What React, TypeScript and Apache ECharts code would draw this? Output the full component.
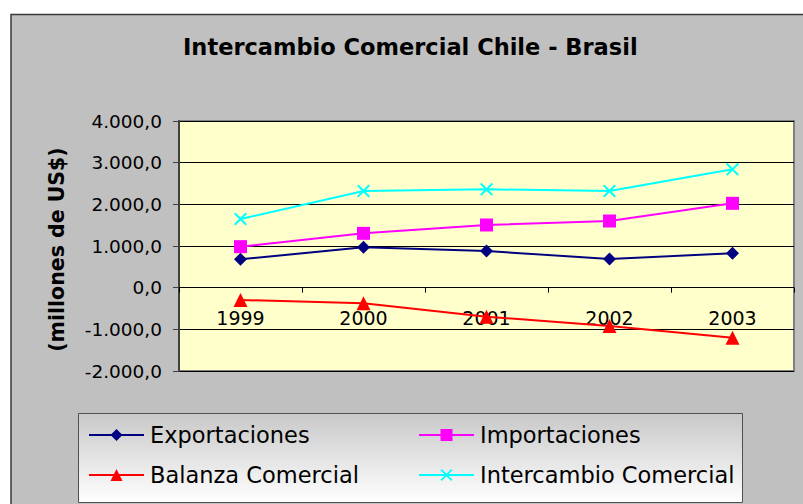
import React, { useEffect, useRef } from "react";
import * as echarts from "echarts";

const years = ["1999", "2000", "2001", "2002", "2003"];
const exportaciones = [680, 968, 880, 688, 824];
const importaciones = [984, 1304, 1504, 1600, 2024];
const balanza = [-296, -376, -696, -920, -1200];
const intercambio = [1648, 2320, 2360, 2320, 2840];

const seriesNames = ["Exportaciones", "Importaciones", "Balanza Comercial", "Intercambio Comercial"];
const titleText = "Intercambio Comercial Chile - Brasil";
const yAxisTitle = "(millones de US$)";

const X_SYMBOL =
  "path://M0,2.2 L2.2,0 L10,7.8 L17.8,0 L20,2.2 L12.2,10 L20,17.8 L17.8,20 L10,12.2 L2.2,20 L0,17.8 L7.8,10 Z";

const Y_MIN = -2000;
const Y_MAX = 4000;
const GRID_TOP = 121;
const GRID_H = 250;

function fmt(v: number): string {
  const neg = v < 0;
  const a = Math.abs(v);
  const intPart = Math.floor(a)
    .toString()
    .replace(/\B(?=(\d{3})+(?!\d))/g, ".");
  return (neg ? "-" : "") + intPart + ",0";
}

export default function App() {
  const ref = useRef<HTMLDivElement>(null);
  useEffect(() => {
    if (!ref.current) return;
    const chart = echarts.init(ref.current, null, { renderer: "svg" });
    const font = "DejaVu Sans";
    // distance from grid bottom up to the zero line
    const zeroOffset = (GRID_H * (0 - Y_MIN)) / (Y_MAX - Y_MIN);
    const mk = (name: string, data: number[], color: string, symbol: string, size: number) => ({
      name,
      type: "line",
      data,
      symbol,
      symbolSize: size,
      showAllSymbol: true,
      lineStyle: { color, width: 2 },
      itemStyle: { color, borderWidth: 0 },
      emphasis: { disabled: true },
    });
    chart.setOption({
      animation: false,
      backgroundColor: "#ffffff",
      title: {
        text: titleText,
        left: 183,
        top: 35,
        padding: 0,
        textStyle: { fontFamily: font, fontSize: 22.5, fontWeight: "bold", color: "#000" },
      },
      graphic: [
        {
          type: "rect",
          z: -10,
          shape: { x: 11, y: 14.5, width: 820, height: 520 },
          style: { fill: "#c0c0c0", stroke: "#3a3a3a", lineWidth: 1.5 },
        },
        {
          type: "rect",
          z: -9,
          shape: { x: 78.5, y: 413.5, width: 664, height: 89 },
          style: {
            fill: new echarts.graphic.LinearGradient(0, 0, 0, 1, [
              { offset: 0, color: "#c8c8c8" },
              { offset: 1, color: "#ffffff" },
            ]),
            stroke: "#505050",
            lineWidth: 1,
          },
        },
        {
          type: "text",
          x: 57,
          y: 249.5,
          rotation: Math.PI / 2,
          style: {
            text: yAxisTitle,
            fontFamily: font,
            fontSize: 20.5,
            fontWeight: "bold",
            fill: "#000",
            align: "center",
            verticalAlign: "middle",
          },
        },
      ],
      legend: [
        {
          data: [seriesNames[0], seriesNames[2]],
          orient: "vertical",
          left: 88,
          top: 423,
          padding: 0,
          itemWidth: 55,
          itemHeight: 15,
          itemGap: 16,
          textStyle: { fontFamily: font, fontSize: 22.5, color: "#000", lineHeight: 24, padding: [0, 0, 0, 1] },
        },
        {
          data: [seriesNames[1], seriesNames[3]],
          orient: "vertical",
          left: 418,
          top: 423,
          padding: 0,
          itemWidth: 55,
          itemHeight: 15,
          itemGap: 16,
          textStyle: { fontFamily: font, fontSize: 22.5, color: "#000", lineHeight: 24, padding: [0, 0, 0, 1] },
        },
      ],
      grid: {
        left: 179,
        top: GRID_TOP,
        width: 615,
        height: GRID_H,
        show: true,
        backgroundColor: "#ffffcc",
        borderColor: "#808080",
        borderWidth: 2,
      },
      xAxis: {
        type: "category",
        data: years,
        boundaryGap: true,
        position: "bottom",
        offset: -zeroOffset,
        axisLine: { onZero: false, lineStyle: { color: "#000", width: 1 } },
        axisTick: { show: true, length: 5, lineStyle: { color: "#000" } },
        axisLabel: { fontFamily: font, fontSize: 19, color: "#000", margin: 21 },
        splitLine: { show: false },
      },
      yAxis: {
        type: "value",
        min: Y_MIN,
        max: Y_MAX,
        interval: 1000,
        axisLine: { show: true, lineStyle: { color: "#404040", width: 2 } },
        axisTick: { show: true, length: 6, lineStyle: { color: "#404040" } },
        axisLabel: { fontFamily: font, fontSize: 18.5, color: "#000", margin: 17, formatter: (v: number) => fmt(v) },
        splitLine: { show: true, lineStyle: { color: "#000", width: 1 } },
      },
      series: [
        mk(seriesNames[0], exportaciones, "#000080", "diamond", 13),
        mk(seriesNames[1], importaciones, "#ff00ff", "rect", 13),
        mk(seriesNames[2], balanza, "#ff0000", "triangle", 14),
        mk(seriesNames[3], intercambio, "#00ffff", X_SYMBOL, 13),
      ],
    });
    return () => chart.dispose();
  }, []);
  return (
    <div
      ref={ref}
      style={{ position: "fixed", left: 0, top: 0, width: 803, height: 504 }}
    />
  );
}
